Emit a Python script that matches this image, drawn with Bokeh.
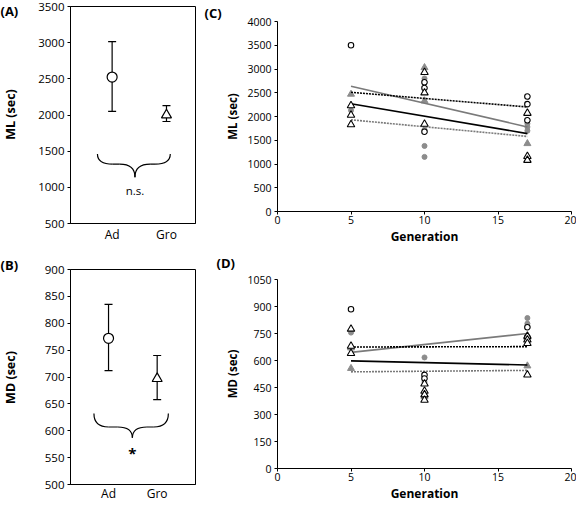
import math
from bokeh.plotting import figure
from bokeh.layouts import row, column
from bokeh.models import Range1d, FixedTicker, Label, Whisker, TeeHead, ColumnDataSource
from bokeh.core.properties import value
from bokeh.embed import file_html
from bokeh.resources import INLINE

FONT = "Open Sans"
GREY = "#8c8c8c"

# ---------------- data ----------------
groups = ["Ad", "Gro"]
group_pos_a = [1, 2]
group_pos_b = [1, 2]
ml_mean = [2525, 2000]
ml_upper = [3015, 2130]
ml_lower = [2050, 1910]
md_mean = [772, 697]
md_upper = [835, 740]
md_lower = [712, 658]

# Panel C  (ML vs generation)
c_open_circle_gen = [5, 10, 10, 10, 17, 17, 17]
c_open_circle_val = [3500, 2720, 2600, 1680, 2420, 2260, 1920]
c_open_tri_gen = [5, 5, 5, 10, 10, 10, 17, 17, 17]
c_open_tri_val = [2230, 2030, 1830, 2930, 2500, 1840, 2070, 1160, 1080]
c_grey_circle_gen = [5, 10, 10, 10, 10, 17, 17, 17]
c_grey_circle_val = [2130, 2800, 1720, 1380, 1150, 1850, 1780, 1700]
c_grey_tri_gen = [5, 10, 10, 17]
c_grey_tri_val = [2470, 3030, 2330, 1430]

# Panel D  (MD vs generation)
d_open_circle_gen = [5, 10, 10, 17, 17]
d_open_circle_val = [885, 520, 500, 785, 730]
d_open_tri_gen = [5, 5, 5, 10, 10, 10, 10, 17, 17, 17, 17]
d_open_tri_val = [775, 680, 640, 470, 430, 410, 380, 735, 715, 695, 520]
d_grey_circle_gen = [5, 10, 10, 17, 17]
d_grey_circle_val = [755, 617, 480, 836, 805]
d_grey_tri_gen = [5, 5, 10, 17, 17]
d_grey_tri_val = [670, 556, 400, 725, 570]

trend_gen = [5, 17]
c_trend_grey_solid = [2637, 1780]
c_trend_black_solid = [2270, 1640]
c_trend_black_dot = [2510, 2200]
c_trend_grey_dot = [1930, 1580]
d_trend_grey_solid = [645, 750]
d_trend_black_solid = [598, 575]
d_trend_black_dot = [675, 677]
d_trend_grey_dot = [537, 545]

ml_ticks = list(range(500, 3501, 500))
md_ticks = list(range(500, 901, 50))
c_ticks = list(range(0, 4001, 500))
d_ticks = list(range(0, 1051, 150))
gen_ticks = [0, 5, 10, 15, 20]


def style(p, tick_size, box):
    p.xgrid.visible = False
    p.ygrid.visible = False
    p.background_fill_color = "white"
    p.border_fill_color = "white"
    p.outline_line_color = "black" if box else None
    p.outline_line_width = 1
    for ax in (p.xaxis[0], p.yaxis[0]):
        ax.axis_line_color = "black"
        ax.axis_line_width = 1
        ax.major_tick_line_color = "black"
        ax.major_tick_in = 0
        ax.major_tick_out = 3
        ax.minor_tick_line_color = None
        ax.major_label_text_font = FONT
        ax.major_label_text_font_size = tick_size
        ax.major_label_text_color = "black"
        ax.major_label_standoff = 3
        ax.axis_label_standoff = 0
        ax.axis_label_text_font = FONT
        ax.axis_label_text_font_style = "bold"
        ax.axis_label_text_color = "black"


def canvas_text(p, text, x, y, size, bold=True, angle=0.0, align="center"):
    p.add_layout(Label(x=x, y=y, x_units="canvas", y_units="canvas", angle=angle,
                       text=text, text_font=FONT, text_font_size=size,
                       text_font_style="bold" if bold else "normal",
                       text_baseline="middle", text_align=align, text_color="black"), "left")


def brace(p, xl, xr, xc, ytop, ymid, ytip, d):
    kw = dict(line_color="black", line_width=1.2)
    p.quadratic(x0=[xl], y0=[ytop], x1=[xl + d], y1=[ymid], cx=[xl], cy=[ymid], **kw)
    p.segment(x0=[xl + d], y0=[ymid], x1=[xc - d], y1=[ymid], **kw)
    p.quadratic(x0=[xc - d], y0=[ymid], x1=[xc], y1=[ytip], cx=[xc], cy=[ymid], **kw)
    p.quadratic(x0=[xc + d], y0=[ymid], x1=[xc], y1=[ytip], cx=[xc], cy=[ymid], **kw)
    p.segment(x0=[xc + d], y0=[ymid], x1=[xr - d], y1=[ymid], **kw)
    p.quadratic(x0=[xr], y0=[ytop], x1=[xr - d], y1=[ymid], cx=[xr], cy=[ymid], **kw)


def group_panel(pos, mean, upper, lower, yr, ticks, xr, h, top, bottom):
    p = figure(width=200, height=h, x_range=Range1d(*xr), y_range=Range1d(*yr),
               output_backend="svg", toolbar_location=None,
               min_border_left=57, min_border_right=5, min_border_top=top, min_border_bottom=bottom)
    style(p, "11.5px", True)
    p.yaxis.ticker = FixedTicker(ticks=ticks)
    p.xaxis.ticker = FixedTicker(ticks=pos)
    p.xaxis.major_label_overrides = {pos[i]: groups[i] for i in range(len(groups))}
    p.xaxis.major_tick_line_color = None
    p.xaxis.major_tick_out = 0
    p.xaxis.major_label_standoff = 2
    p.xaxis.major_label_text_font_size = "12px"
    src = ColumnDataSource(dict(x=pos, upper=upper, lower=lower))
    p.add_layout(Whisker(source=src, base="x", upper="upper", lower="lower",
                         line_color="black", line_width=1.2,
                         upper_head=TeeHead(size=8, line_color="black", line_width=1.2),
                         lower_head=TeeHead(size=8, line_color="black", line_width=1.2)))
    p.scatter(x=[pos[0]], y=[mean[0]], marker="circle", size=10, fill_color="white",
              line_color="black", line_width=1.2)
    p.scatter(x=[pos[1]], y=[mean[1]], marker="triangle", size=10, fill_color="white",
              line_color="black", line_width=1.2)
    return p


# ---------------- Panel A ----------------
pa = group_panel(group_pos_a, ml_mean, ml_upper, ml_lower, (500, 3500), ml_ticks,
                 (0.234, 2.534), 250, 6, 27)
brace(pa, 0.73, 2.07, 1.42, 1460, 1320, 1140, 0.28)
pa.text(x=[1.42], y=[960], text=["n.s."], text_font=value(FONT), text_font_size="11.5px",
        text_align="center", text_baseline="middle", text_color="black")
canvas_text(pa, "(A)", 0, 10, "13px", align="left")
canvas_text(pa, "ML (sec)", 10, 114, "12.5px", angle=math.pi / 2)

# ---------------- Panel B ----------------
pb = group_panel(group_pos_b, md_mean, md_upper, md_lower, (500, 900), md_ticks,
                 (0.218, 2.788), 254, 19, 16)
pb.xaxis.major_label_standoff = 0
brace(pb, 0.70, 2.23, 1.49, 632, 607, 587, 0.3)
pb.text(x=[1.49], y=[558], text=["*"], text_font=value(FONT), text_font_size="15px",
        text_align="center", text_baseline="middle", text_color="black", text_font_style="bold")
canvas_text(pb, "(B)", 0, 14, "13px", align="left")
canvas_text(pb, "MD (sec)", 10, 127, "12.5px", angle=math.pi / 2)


# ---------------- scatter panels ----------------
def gen_panel(yr, ticks, ylabel, h, top, bottom, data, trends):
    p = figure(width=376, height=h, x_range=Range1d(0, 20), y_range=Range1d(*yr),
               output_backend="svg", toolbar_location=None,
               min_border_left=77, min_border_right=5, min_border_top=top, min_border_bottom=bottom)
    style(p, "10.5px", False)
    p.xaxis.ticker = FixedTicker(ticks=gen_ticks)
    p.yaxis.ticker = FixedTicker(ticks=ticks)
    p.xaxis.axis_label = "Generation"
    p.yaxis.axis_label = ylabel
    p.xaxis.axis_label_text_font_size = "12px"
    p.yaxis.axis_label_text_font_size = "11.5px"
    p.xaxis.major_label_standoff = 1
    p.xaxis.axis_label_standoff = 1
    p.yaxis.axis_label_standoff = 4
    (gc_g, gc_v), (gt_g, gt_v), (oc_g, oc_v), (ot_g, ot_v) = data
    p.scatter(x=gc_g, y=gc_v, marker="circle", size=5, fill_color=GREY, line_color=GREY)
    p.scatter(x=gt_g, y=gt_v, marker="triangle", size=7, fill_color=GREY, line_color=GREY)
    gs, bs, bd, gd = trends
    p.line(trend_gen, gs, line_color="#7a7a7a", line_width=1.6)
    p.line(trend_gen, bs, line_color="black", line_width=1.6)
    p.line(trend_gen, bd, line_color="black", line_width=1.6, line_dash="2 1")
    p.line(trend_gen, gd, line_color="#7a7a7a", line_width=1.6, line_dash="2 1")
    p.scatter(x=oc_g, y=oc_v, marker="circle", size=5.5, fill_color="white", line_color="black",
              line_width=1.1)
    p.scatter(x=ot_g, y=ot_v, marker="triangle", size=7.5, fill_color="white", line_color="black",
              line_width=1.1)
    return p


pc = gen_panel((0, 4000), c_ticks, "ML (sec)", 250, 21, 39,
               [(c_grey_circle_gen, c_grey_circle_val), (c_grey_tri_gen, c_grey_tri_val),
                (c_open_circle_gen, c_open_circle_val), (c_open_tri_gen, c_open_tri_val)],
               [c_trend_grey_solid, c_trend_black_solid, c_trend_black_dot, c_trend_grey_dot])
canvas_text(pc, "(C)", 4, 12, "13px", align="left")

pd_ = gen_panel((0, 1050), d_ticks, "MD (sec)", 254, 29, 35,
                [(d_grey_circle_gen, d_grey_circle_val), (d_grey_tri_gen, d_grey_tri_val),
                 (d_open_circle_gen, d_open_circle_val), (d_open_tri_gen, d_open_tri_val)],
                [d_trend_grey_solid, d_trend_black_solid, d_trend_black_dot, d_trend_grey_dot])
canvas_text(pd_, "(D)", 16, 12, "13px", align="left")

layout = row(column(pa, pb), column(pc, pd_))
open("out.html", "w").write(file_html(layout, INLINE))
